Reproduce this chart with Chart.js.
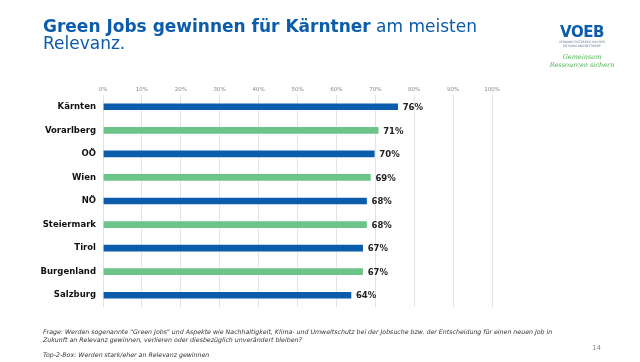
<!DOCTYPE html>
<html>
<head>
<meta charset="utf-8">
<script src="https://cdn.jsdelivr.net/npm/chart.js@4.4.1/dist/chart.umd.min.js"></script>
<style>
  html, body { margin: 0; padding: 0; background: #fff; }
  #wrap { position: relative; width: 640px; height: 362px; overflow: hidden; font-family: "DejaVu Sans", sans-serif; }
  #chart { position: absolute; left: 0; top: 0; }
  .title { position: absolute; left: 43px; top: 18px; width: 450px; font-family: "DejaVu Sans", sans-serif; font-size: 17px; line-height: 17px; color: #0b5cab; }
  .title b { font-weight: 700; }
  .logo { position: absolute; left: 546px; top: 25px; width: 72px; text-align: center; }
  .logo .voeb { font-family: "DejaVu Sans", sans-serif; font-weight: 700; font-size: 15px; color: #0b5cab; letter-spacing: -0.5px; line-height: 15px; }
  .logo .sub { font-size: 3px; color: #6a7d99; line-height: 3.5px; margin-top: 1px; }
  .logo .claim { font-family: "DejaVu Serif", serif; font-style: italic; font-size: 6.5px; color: #4caf50; line-height: 8px; margin-top: 5px; }
  .foot { position: absolute; left: 43px; font-style: italic; font-size: 6.25px; color: #333; line-height: 8px; }
  .page { position: absolute; left: 592px; top: 344px; font-size: 7px; color: #888; }
</style>
</head>
<body>
<div id="wrap">
  <canvas id="chart" width="640" height="362"></canvas>
  <div class="title"><b>Green Jobs gewinnen für Kärntner</b> am meisten Relevanz.</div>
  <div class="logo">
    <div class="voeb">VOEB</div>
    <div class="sub">VERBAND ÖSTERREICHISCHER<br>ENTSORGUNGSBETRIEBE</div>
    <div class="claim">Gemeinsam<br>Ressourcen sichern</div>
  </div>
  <div class="foot" style="top:328px;width:530px;">Frage: Werden sogenannte "Green Jobs" und Aspekte wie Nachhaltigkeit, Klima- und Umweltschutz bei der Jobsuche bzw. der Entscheidung für einen neuen Job in Zukunft an Relevanz gewinnen, verlieren oder diesbezüglich unverändert bleiben?</div>
  <div class="foot" style="top:351px;">Top-2-Box: Werden stark/eher an Relevanz gewinnen</div>
  <div class="page">14</div>
</div>
<script>
// Bundesländer, sorted as in the slide
const regions = ['Kärnten', 'Vorarlberg', 'OÖ', 'Wien', 'NÖ', 'Steiermark', 'Tirol', 'Burgenland', 'Salzburg']
// Top-2-Box share in percent
const shares = [76, 71, 70, 69, 68, 68, 67, 67, 64]
// x axis ticks
const tickValues = [0, 10, 20, 30, 40, 50, 60, 70, 80, 90, 100]

const blue = '#0b5cab'
const green = '#6cc489'
const barColors = regions.map((r, i) => i % 2 === 0 ? blue : green)

// Draw "76%" etc. right of each bar
const valueLabels = {
  id: 'valueLabels',
  afterDatasetsDraw(chart) {
    const ctx = chart.ctx
    const meta = chart.getDatasetMeta(0)
    ctx.save()
    ctx.font = 'bold 8.5px "DejaVu Sans", sans-serif'
    ctx.fillStyle = '#222'
    ctx.textBaseline = 'middle'
    ctx.textAlign = 'left'
    meta.data.forEach((bar, i) => {
      ctx.fillText(shares[i] + '%', bar.x + 4, bar.y + 1)
    })
    ctx.restore()
  }
}

new Chart(document.getElementById('chart'), {
  type: 'bar',
  data: {
    labels: regions,
    datasets: [{
      data: shares,
      backgroundColor: barColors,
      borderColor: 'rgba(255,255,255,0.35)',
      borderWidth: 1,
      barThickness: 8
    }]
  },
  options: {
    indexAxis: 'y',
    responsive: false,
    animation: false,
    layout: { padding: { left: 0, top: 82, right: 148, bottom: 55 } },
    plugins: { legend: { display: false }, tooltip: { enabled: false } },
    scales: {
      x: {
        position: 'top',
        min: 0,
        max: 100,
        afterBuildTicks(scale) {
          scale.ticks = tickValues.map(v => ({ value: v }))
        },
        afterFit(scale) { scale.height = 13 },
        ticks: {
          color: '#888',
          font: { size: 5.5, family: '"DejaVu Sans", sans-serif' },
          padding: 2,
          callback: v => v + '%'
        },
        grid: { color: '#e3e3e3', lineWidth: 1, drawTicks: false },
        border: { display: false }
      },
      y: {
        afterFit(scale) { scale.width = 103 },
        ticks: {
          color: '#111',
          font: { size: 8.5, weight: 'bold', family: '"DejaVu Sans", sans-serif' },
          padding: 7
        },
        grid: { display: false, drawTicks: false },
        border: { display: false }
      }
    }
  },
  plugins: [valueLabels]
})
</script>
</body>
</html>
